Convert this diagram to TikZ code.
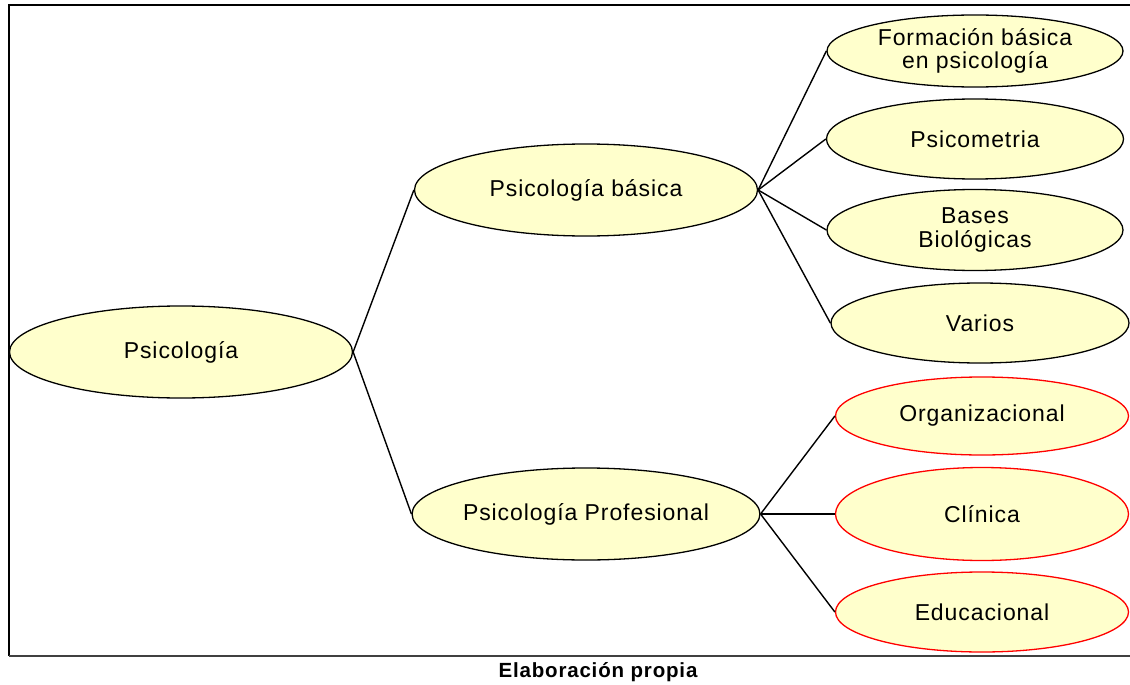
\documentclass[tikz,border=0pt]{standalone}
\usepackage{fontspec}
\setmainfont{Liberation Sans}[LetterSpace=4]
\usetikzlibrary{shapes.geometric}
\definecolor{amarillo}{RGB}{255,255,204}
\begin{document}
\begin{tikzpicture}[x=1pt,y=-1pt,
    elipse/.style={ellipse, draw=black, fill=amarillo, line width=1.3pt, inner sep=0pt, align=center, font=\fontsize{23}{23.5}\selectfont},
    roja/.style={elipse, draw=red},
    rama/.style={line width=1.4pt}]
    \useasboundingbox (0,0) rectangle (1130,685);
    % marco
    \draw[line width=1.4pt] (1130,5) -- (9,5) -- (9,656);
    \draw[line width=1.4pt, black!75] (9,656) -- (1130,656);
    % nodos
    \node[elipse, minimum width=343pt, minimum height=92pt] (psi) at (181,352) {Psicología};
    \node[elipse, minimum width=343pt, minimum height=92pt] (basica) at (586,190) {Psicología básica};
    \node[elipse, minimum width=342pt, minimum height=92pt] (prof) at (586,514) {Psicología Profesional};
    \node[elipse, minimum width=296pt, minimum height=72pt] (form) at (975,51) {Formación básica\\en psicología};
    \node[elipse, minimum width=297pt, minimum height=80pt] (psicom) at (975,139) {Psicometria};
    \node[elipse, minimum width=296pt, minimum height=81pt] (bases) at (975,230) {Bases\\Biológicas};
    \node[elipse, minimum width=298pt, minimum height=80pt] (varios) at (980,323) {Varios};
    \node[roja, minimum width=293pt, minimum height=78pt] (org) at (982,416) {Organizacional};
    \node[roja, minimum width=293pt, minimum height=93pt] (clin) at (982,514) {Clínica};
    \node[roja, minimum width=293pt, minimum height=80pt] (edu) at (982,612) {Educacional};
    % ramas
    \draw[rama] (psi.east) -- (basica.west);
    \draw[rama] (psi.east) -- (prof.west);
    \foreach \h in {form,psicom,bases,varios}
        \draw[rama] (basica.east) -- (\h.west);
    \foreach \h in {org,clin,edu}
        \draw[rama] (prof.east) -- (\h.west);
    \node[font=\bfseries\fontsize{20.5}{21}\selectfont] (fuente) at (598,672) {Elaboración propia};
\end{tikzpicture}
\end{document}
